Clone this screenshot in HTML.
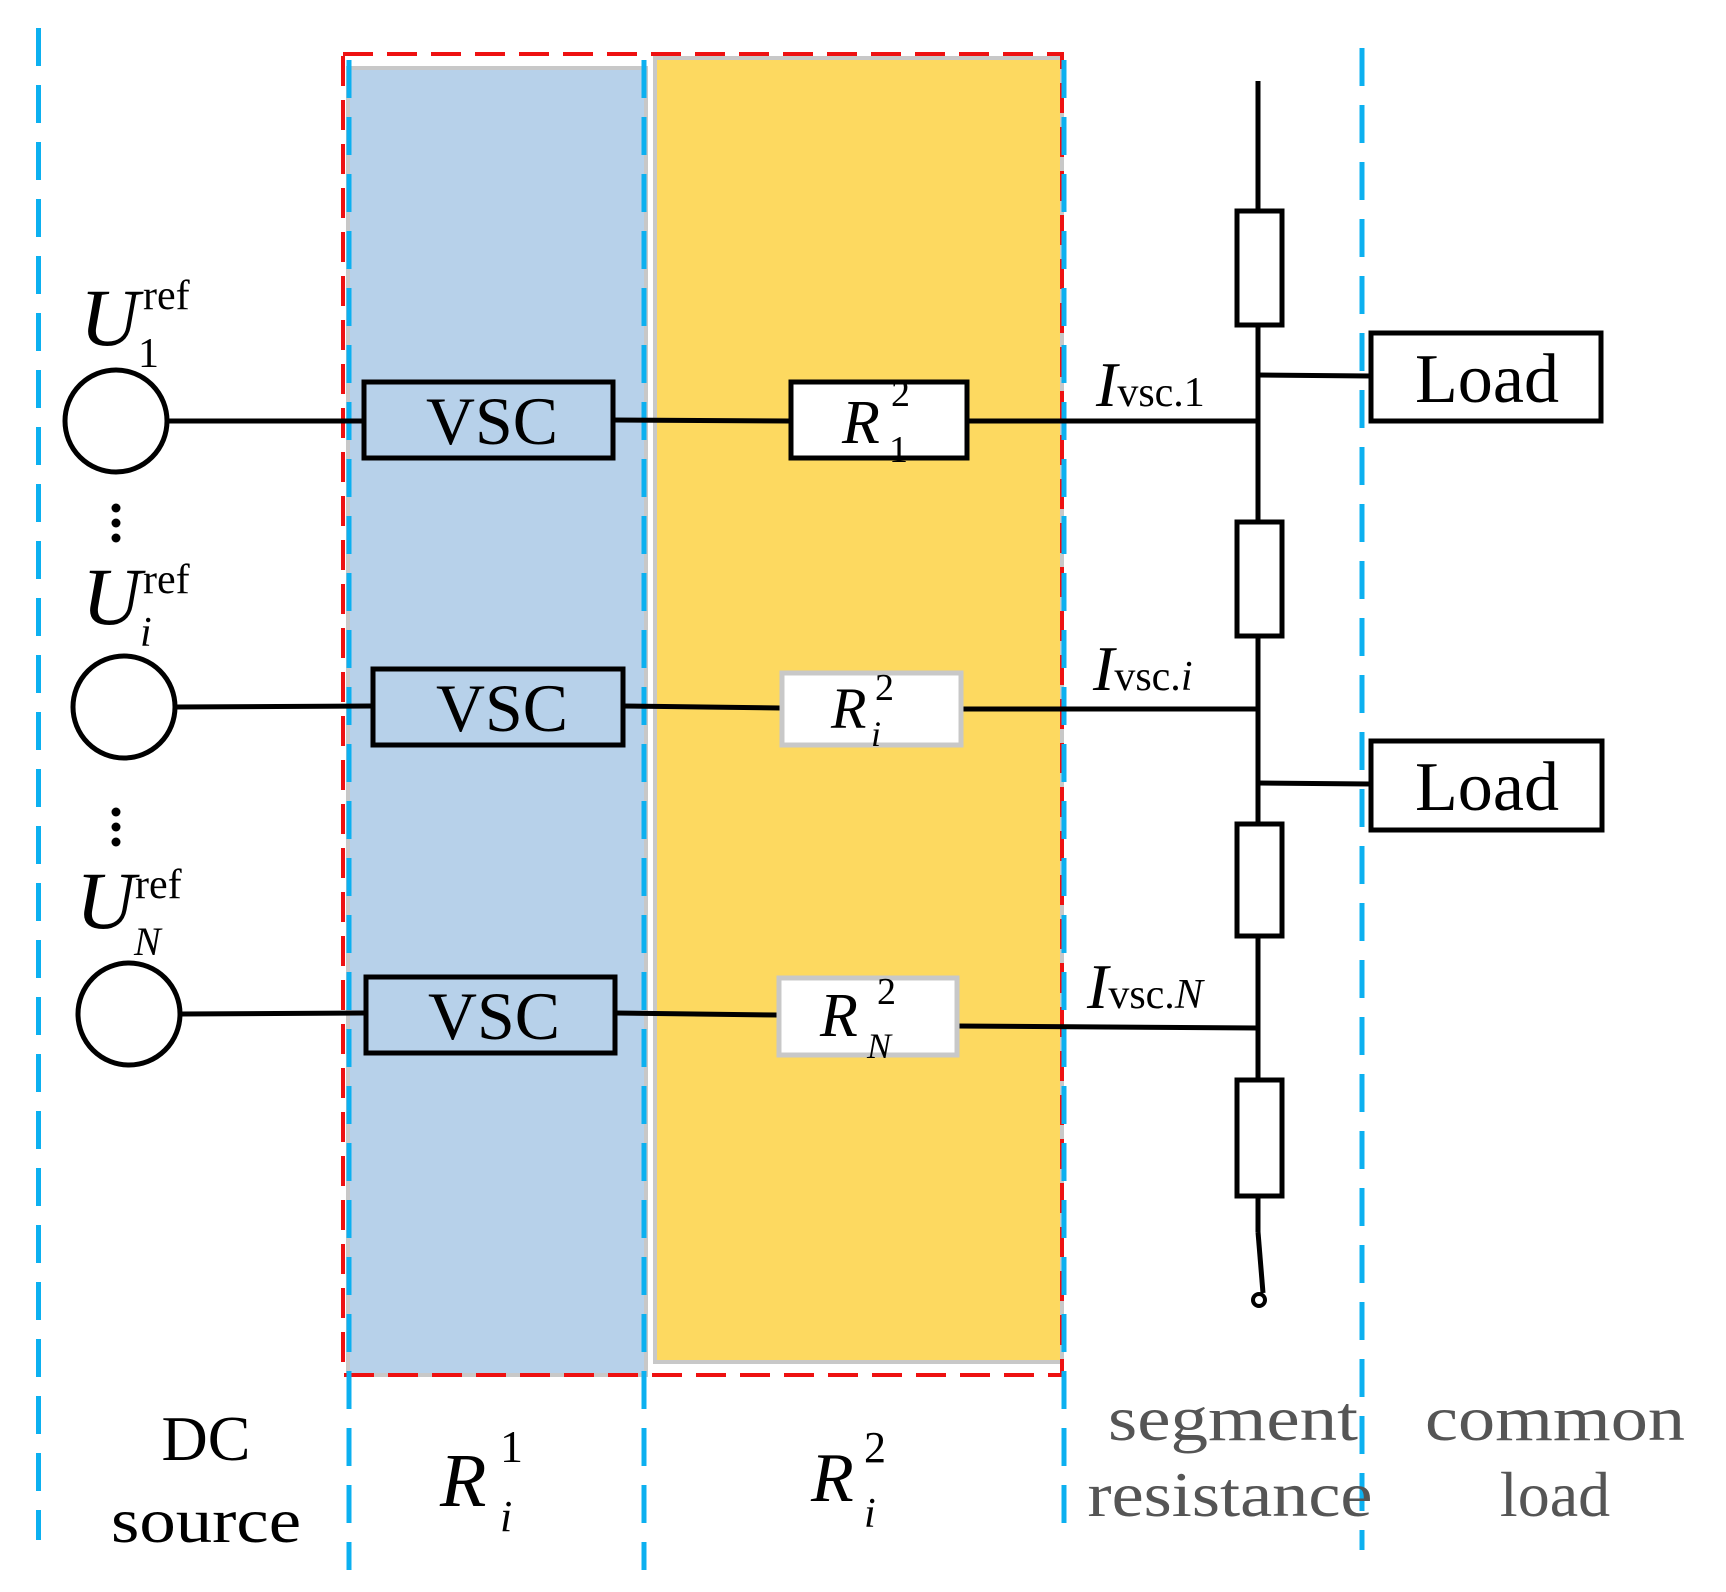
<!DOCTYPE html>
<html><head><meta charset="utf-8"><style>
html,body{margin:0;padding:0;background:#fff}
svg{display:block}
text{font-family:"Liberation Serif",serif}
</style></head><body>
<svg width="1726" height="1592" viewBox="0 0 1726 1592" xmlns="http://www.w3.org/2000/svg">
<!-- fills -->
<rect x="348" y="68" width="298" height="1307" fill="#b7d1ea" stroke="#c8c8c8" stroke-width="4"/>
<rect x="655" y="58" width="407" height="1304" fill="#fdd960" stroke="#c8c8c8" stroke-width="4"/>
<rect x="343" y="54" width="719" height="1321" fill="none" stroke="#ee1111" stroke-width="4" stroke-dasharray="30,14"/>
<!-- blue dashed verticals -->
<g stroke="#0cb0f0" stroke-width="5" stroke-dasharray="38,19" fill="none">
<line x1="38.5" y1="28" x2="38.5" y2="1540"/>
<line x1="349" y1="60" x2="349" y2="1570"/>
<line x1="644" y1="60" x2="644" y2="1570"/>
<line x1="1064" y1="60" x2="1064" y2="1540"/>
<line x1="1362" y1="48" x2="1362" y2="1550"/>
</g>
<!-- wires -->
<g stroke="#000" stroke-width="5" fill="none">
<line x1="168" y1="421" x2="362" y2="421"/>
<line x1="613" y1="420" x2="789" y2="421"/>
<line x1="967" y1="421" x2="1258" y2="421"/>
<line x1="175" y1="707" x2="371" y2="706"/>
<line x1="623" y1="706" x2="780" y2="708"/>
<line x1="961" y1="709" x2="1258" y2="709"/>
<line x1="181" y1="1014" x2="364" y2="1013"/>
<line x1="615" y1="1013" x2="777" y2="1015"/>
<line x1="957" y1="1026" x2="1258" y2="1028"/>
<line x1="1258" y1="81" x2="1258" y2="1232"/>
<line x1="1258" y1="1232" x2="1263" y2="1293"/>
<line x1="1258" y1="375" x2="1370" y2="376"/>
<line x1="1258" y1="783" x2="1370" y2="784"/>
<circle cx="116" cy="421" r="51"/>
<circle cx="124" cy="707" r="51"/>
<circle cx="129" cy="1014" r="51"/>
<circle cx="1259" cy="1300" r="6" stroke-width="4" fill="#fff"/>
</g>
<!-- VSC boxes -->
<g stroke="#000" stroke-width="5" fill="#b7d1ea">
<rect x="364" y="382" width="249" height="76"/>
<rect x="373" y="669" width="250" height="76"/>
<rect x="366" y="977" width="249" height="76"/>
</g>
<g font-size="68" text-anchor="middle">
<text x="492" y="444" textLength="132" lengthAdjust="spacingAndGlyphs">VSC</text>
<text x="502" y="731" textLength="132" lengthAdjust="spacingAndGlyphs">VSC</text>
<text x="494" y="1039" textLength="132" lengthAdjust="spacingAndGlyphs">VSC</text>
</g>
<!-- R boxes -->
<rect x="791" y="382" width="176" height="76" fill="#fff" stroke="#000" stroke-width="5"/>
<rect x="782" y="673" width="179" height="72" fill="#fff" stroke="#c8c8c8" stroke-width="5"/>
<rect x="779" y="978" width="178" height="77" fill="#fff" stroke="#c8c8c8" stroke-width="5"/>
<g font-style="italic">
<text x="842" y="443" font-size="62">R</text>
<text x="891" y="406" font-size="38" font-style="normal">2</text>
<text x="889" y="462" font-size="38" font-style="normal">1</text>
<text x="831" y="728" font-size="58">R</text>
<text x="875" y="700" font-size="38" font-style="normal">2</text>
<text x="871" y="746" font-size="36">i</text>
<text x="820" y="1036" font-size="62">R</text>
<text x="877" y="1004" font-size="38" font-style="normal">2</text>
<text x="867" y="1058" font-size="36">N</text>
</g>
<!-- segment resistors -->
<g stroke="#000" stroke-width="5" fill="#fff">
<rect x="1237" y="211" width="45" height="114"/>
<rect x="1237" y="522" width="45" height="114"/>
<rect x="1237" y="824" width="45" height="112"/>
<rect x="1237" y="1080" width="45" height="116"/>
</g>
<!-- loads -->
<g stroke="#000" stroke-width="5" fill="#fff">
<rect x="1371" y="333" width="230" height="88"/>
<rect x="1371" y="741" width="231" height="89"/>
</g>
<g font-size="70" text-anchor="middle">
<text x="1487" y="402" textLength="144" lengthAdjust="spacingAndGlyphs">Load</text>
<text x="1487" y="810" textLength="144" lengthAdjust="spacingAndGlyphs">Load</text>
</g>
<!-- currents -->
<g font-size="56">
<text x="1096" y="406"><tspan font-style="italic" font-size="64">I</tspan><tspan font-size="42">vsc.1</tspan></text>
<text x="1093" y="690"><tspan font-style="italic" font-size="64">I</tspan><tspan font-size="42">vsc.<tspan font-style="italic">i</tspan></tspan></text>
<text x="1087" y="1008"><tspan font-style="italic" font-size="64">I</tspan><tspan font-size="42">vsc.<tspan font-style="italic">N</tspan></tspan></text>
</g>
<!-- U labels -->
<g>
<text x="80" y="345" font-size="82" font-style="italic">U</text>
<text x="143" y="309" font-size="42">ref</text>
<text x="138" y="367" font-size="42">1</text>
<text x="82" y="624" font-size="82" font-style="italic">U</text>
<text x="143" y="593" font-size="42">ref</text>
<text x="140" y="646" font-size="42" font-style="italic">i</text>
<text x="76" y="928" font-size="82" font-style="italic">U</text>
<text x="135" y="898" font-size="42">ref</text>
<text x="134" y="955" font-size="40" font-style="italic">N</text>
</g>
<g fill="#000">
<circle cx="116" cy="508" r="4.5"/><circle cx="116" cy="523" r="4.5"/><circle cx="116" cy="538" r="4.5"/>
<circle cx="116" cy="812" r="4.5"/><circle cx="116" cy="827" r="4.5"/><circle cx="116" cy="842" r="4.5"/>
</g>
<!-- bottom labels -->
<g font-size="64" text-anchor="middle">
<text x="206" y="1460">DC</text>
<text x="206" y="1542" textLength="190" lengthAdjust="spacingAndGlyphs">source</text>
<text x="1233" y="1440" fill="#555" textLength="250" lengthAdjust="spacingAndGlyphs">segment</text>
<text x="1230" y="1516" fill="#555" textLength="285" lengthAdjust="spacingAndGlyphs">resistance</text>
<text x="1555" y="1440" fill="#555" textLength="260" lengthAdjust="spacingAndGlyphs">common</text>
<text x="1555" y="1516" fill="#555">load</text>
</g>
<text x="440" y="1506" font-size="76" font-style="italic">R</text>
<text x="500" y="1462" font-size="46">1</text>
<text x="500" y="1531" font-size="44" font-style="italic">i</text>
<text x="811" y="1501" font-size="70" font-style="italic">R</text>
<text x="864" y="1462" font-size="44">2</text>
<text x="864" y="1527" font-size="42" font-style="italic">i</text>
</svg>
</body></html>
